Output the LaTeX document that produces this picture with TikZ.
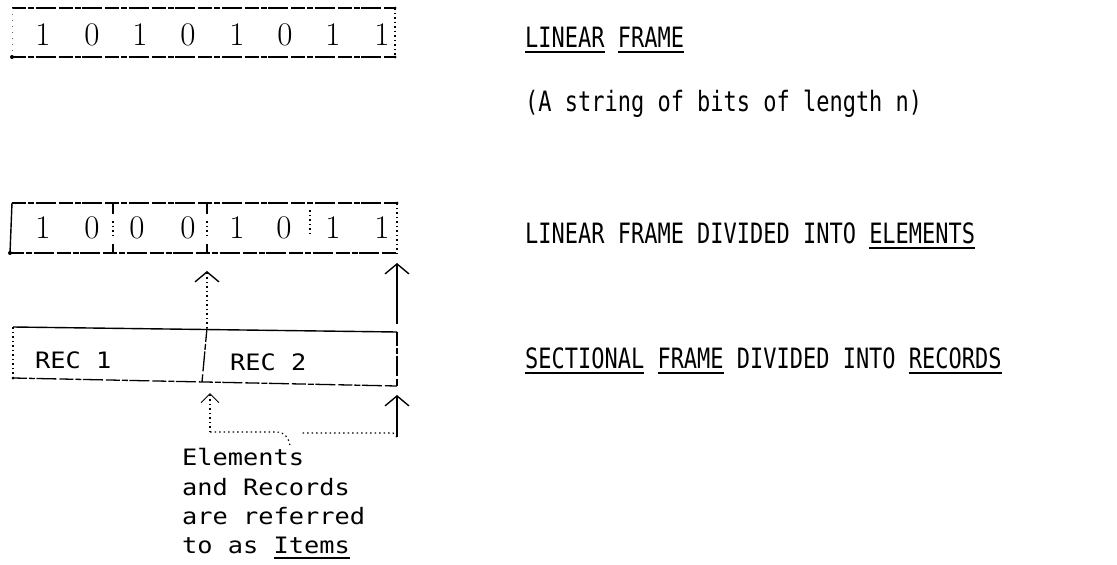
\documentclass[tikz,border=0pt]{standalone}
\usepackage{fontspec}
\usetikzlibrary{arrows.meta}
\newfontfamily\capfont{DejaVu Sans Mono}[FakeStretch=0.785]
\newfontfamily\notefont{DejaVu Sans Mono}[FakeStretch=1.12]
% underlined word with a heavy typewriter rule
\newcommand\ulword[1]{\setbox0=\hbox{#1}\rlap{\rule[-6pt]{\wd0}{2pt}}\box0\relax}
\begin{document}
\begin{tikzpicture}[x=1pt,y=-1pt,
  rough/.style={line width=1.3pt, dash pattern=on 14pt off 2pt on 6pt off 1.5pt on 20pt off 3pt},
  dotline/.style={line width=1.1pt, dash pattern=on 1.5pt off 3pt},
  faint/.style={line width=0.9pt, dash pattern=on 1pt off 5pt, black!60},
  solidline/.style={line width=1.4pt},
  barb/.style={-{Straight Barb[length=10pt,width=24pt,line width=1.4pt]}},
  digit/.style={anchor=base, inner sep=0pt, font=\fontsize{33}{33}\selectfont},
  caption/.style={anchor=base west, inner sep=0pt, font=\capfont\fontsize{28}{30}\selectfont},
  note/.style={anchor=base west, inner sep=0pt, font=\notefont\fontsize{22.6}{30}\selectfont},
  corner/.style={circle, fill, inner sep=0pt, minimum size=4pt}
]
\useasboundingbox (0,0) rectangle (1117,565);

% ---------- linear frame ----------
\coordinate (a-nw) at (12,8);
\coordinate (a-ne) at (395,8);
\coordinate (a-sw) at (12,57);
\coordinate (a-se) at (395,57);
\draw[rough] (a-nw) -- (a-ne);
\draw[rough] (a-sw) -- (a-se);
\draw[faint] (a-nw) -- (a-sw);
\draw[dotline] (a-ne) -- (a-se);
\node[corner] at (a-sw) {};
\node[corner,minimum size=3pt] at (a-ne) {};
\node[corner,minimum size=3pt] at (a-se) {};
\foreach \x/\d [count=\i] in {43/1,92/0,140/1,188/0,237/1,285/0,333/1,382/1}
  \node[digit] (a\i) at (\x,45) {\d};

% ---------- linear frame divided into elements ----------
\coordinate (b-nw) at (12,203);
\coordinate (b-ne) at (397,203);
\coordinate (b-sw) at (10,253);
\coordinate (b-se) at (397,253);
\draw[rough] (b-nw) -- (b-ne);
\draw[rough] (b-sw) -- (b-se);
\draw[solidline] (b-nw) -- (b-sw);
\draw[dotline] (b-ne) -- (b-se);
\node[corner] at (b-sw) {};
\node[corner,minimum size=3pt] at (b-ne) {};
% element boundaries
\foreach \x in {113,207}{
  \draw[solidline] (\x,203) -- (\x,214);
  \draw[dotline] (\x,221) -- (\x,236);
  \draw[solidline] (\x,244) -- (\x,253);
}
\draw[dotline] (310,210) -- (310,237);
\foreach \x/\d [count=\i] in {43/1,92/0,137/0,188/0,237/1,284/0,333/1,382/1}
  \node[digit] (b\i) at (\x,238) {\d};

% ---------- sectional frame divided into records ----------
\coordinate (c-nw) at (13,327);
\coordinate (c-ne) at (397,332);
\coordinate (c-sw) at (13,378);
\coordinate (c-se) at (397,386);
\coordinate (c-mt) at (207,328);
\coordinate (c-mb) at (202,382);
\draw[solidline] (c-nw) -- (c-ne);
\draw[rough] (c-sw) -- (c-se);
\draw[dotline] (c-nw) -- (c-sw);
\draw[rough] (c-ne) -- (c-se);
\draw[rough] (c-mt) -- (c-mb);
\node[corner,minimum size=3pt] at (c-sw) {};
\node[note] (rec1) at (35,368) {REC 1};
\node[note] (rec2) at (230,370) {REC 2};

% ---------- item boundary pointers ----------
\coordinate (p1) at (207,271);
\coordinate (p2) at (397,263);
\draw[dotline,barb] (c-mt) -- (p1);
\draw[solidline,barb] (397,324) -- (p2);

\coordinate (q1) at (210,393);
\coordinate (q1t) at (210,432);
\coordinate (q2) at (397,395);
\coordinate (q2t) at (397,437);
\draw[dotline,-{Straight Barb[length=9pt,width=18pt,line width=0.9pt]}] (q1t) -- (q1);
\draw[solidline,barb] (q2t) -- (q2);
\draw[dotline] (q1t) -- (277,432) to[out=0,in=95] (290,446);
\draw[dotline] (q2t) -- (393,433) -- (300,433);

% ---------- notes ----------
\node[note] (n1) at (182,465) {Elements};
\node[note] (n2) at (182,495) {and Records};
\node[note] (n3) at (182,524) {are referred};
\node[note] (n4) at (182,553) {to as \ulword{Items}};

% ---------- captions ----------
\node[caption] (t1) at (525,47) {\ulword{LINEAR} \ulword{FRAME}};
\node[caption] (t2) at (525,111) {(A string of bits of length n)};
\node[caption] (t3) at (525,243) {LINEAR FRAME DIVIDED INTO \ulword{ELEMENTS}};
\node[caption] (t4) at (525,368) {\ulword{SECTIONAL} \ulword{FRAME} DIVIDED INTO \ulword{RECORDS}};
\end{tikzpicture}
\end{document}
